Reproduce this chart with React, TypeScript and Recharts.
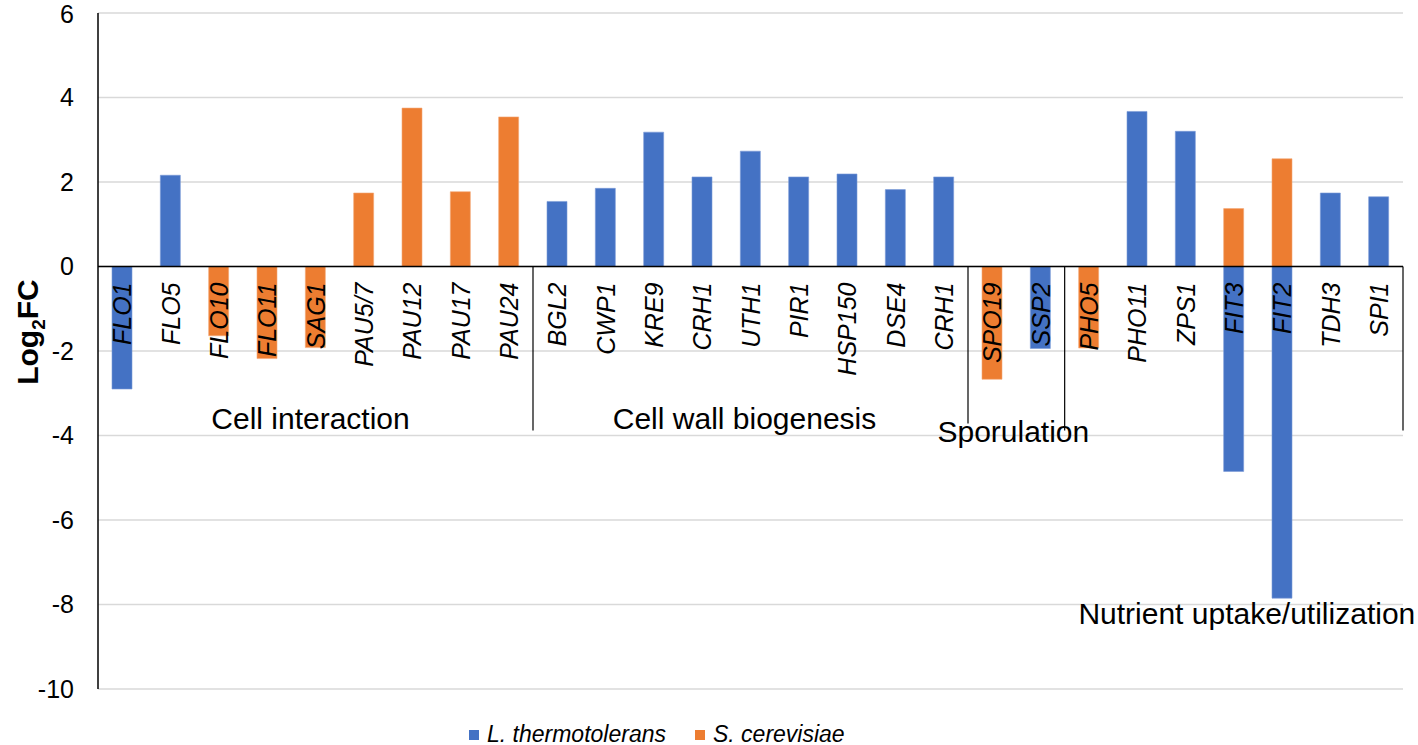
import React from "react";
import {
  BarChart,
  Bar,
  XAxis,
  YAxis,
  CartesianGrid,
  ReferenceLine,
  Legend,
} from "recharts";

const genes = [
  "FLO1", "FLO5", "FLO10", "FLO11", "SAG1", "PAU5/7", "PAU12", "PAU17", "PAU24",
  "BGL2", "CWP1", "KRE9", "CRH1", "UTH1", "PIR1", "HSP150", "DSE4", "CRH1",
  "SPO19", "SSP2",
  "PHO5", "PHO11", "ZPS1", "FIT3", "FIT2", "TDH3", "SPI1",
];

const lThermotolerans = [
  -2.9, 2.16, null, null, null, null, null, null, null,
  1.54, 1.85, 3.18, 2.12, 2.73, 2.12, 2.19, 1.82, 2.12,
  null, -1.94,
  null, 3.67, 3.2, -4.85, -7.85, 1.74, 1.65,
];

const sCerevisiae = [
  null, null, -1.64, -2.18, -1.92, 1.74, 3.75, 1.77, 3.54,
  null, null, null, null, null, null, null, null, null,
  -2.67, null,
  -1.93, null, null, 1.37, 2.55, null, null,
];

const groupNames = ["Cell interaction", "Cell wall biogenesis", "Sporulation", "Nutrient uptake/utilization"];
const groupSizes = [9, 9, 2, 7];

const yTicks = [-10, -8, -6, -4, -2, 0, 2, 4, 6];

// layout
const W = 1418;
const H = 745;
const M = { top: 13, right: 15, left: 0, bottom: 26 };
const Y_AXIS_W = 98;
const X_AXIS_H = 30;
const PLOT_W = W - M.left - M.right - Y_AXIS_W;
const PLOT_H = H - M.top - M.bottom - X_AXIS_H;
const Y_MIN = -10;
const Y_MAX = 6;
const ZERO_Y = M.top + (PLOT_H * Y_MAX) / (Y_MAX - Y_MIN);
const BAND = PLOT_W / genes.length;

// where each group label sits (below the zero line) and a small nudge sideways
const groupLabelStyle = [
  { dy: 162, dx: -5 },
  { dy: 162, dx: -6 },
  { dy: 175, dx: -3 },
  { dy: 357, dx: 13 },
];

const FONT = "Arial, 'Liberation Sans', sans-serif";

const data = genes.map((g, i) => ({
  gene: g,
  lt: lThermotolerans[i],
  sc: sCerevisiae[i],
}));

const groupStarts: number[] = [];
const groupEnds: number[] = [];
{
  let acc = 0;
  groupSizes.forEach((n) => {
    groupStarts.push(acc);
    acc += n;
    groupEnds.push(acc - 1);
  });
}

function GeneTick(props: any) {
  const { x, payload } = props;
  const index = props.index ?? payload.index;
  const y0 = ZERO_Y + 16;
  const gs = groupStarts.indexOf(index);
  const ge = groupEnds.indexOf(index);
  return (
    <g>
      <text
        x={x}
        y={y0}
        dy="0.36em"
        transform={`rotate(-90, ${x}, ${y0})`}
        textAnchor="end"
        fontFamily={FONT}
        fontStyle="italic"
        fontSize={25}
        fill="#000"
      >
        {payload.value}
      </text>
      {ge >= 0 && (
        <line
          x1={x + BAND / 2}
          x2={x + BAND / 2}
          y1={ZERO_Y}
          y2={ZERO_Y + (ge === 1 ? 157 : 164)}
          stroke="#000"
          strokeWidth={1.2}
        />
      )}
      {gs >= 0 && (
        <text
          x={x - BAND / 2 + (groupSizes[gs] * BAND) / 2 + groupLabelStyle[gs].dx}
          y={ZERO_Y + groupLabelStyle[gs].dy}
          textAnchor="middle"
          fontFamily={FONT}
          fontSize={30}
          fill="#000"
        >
          {groupNames[gs]}
        </text>
      )}
    </g>
  );
}

function YTitle(props: any) {
  const vb = props.viewBox || { x: 0, y: 0, width: 0, height: 0 };
  const cx = 27;
  const cy = vb.y + vb.height / 2 - 19;
  return (
    <text
      x={cx}
      y={cy}
      dy="0.36em"
      transform={`rotate(-90, ${cx}, ${cy})`}
      textAnchor="middle"
      fontFamily={FONT}
      fontWeight="bold"
      fontSize={30}
      fill="#000"
    >
      Log
      <tspan fontSize={19} dy={7}>2</tspan>
      <tspan dy={-7}>FC</tspan>
    </text>
  );
}

function LegendBox(props: any) {
  const items = props.payload || [];
  return (
    <div style={{ display: "flex", alignItems: "center", fontFamily: FONT }}>
      {items.map((it: any, i: number) => (
        <div
          key={i}
          style={{ display: "flex", alignItems: "center", marginRight: i === 0 ? 29 : 0 }}
        >
          <span
            style={{ width: 10, height: 10, background: it.color, display: "inline-block", marginRight: 8 }}
          />
          <span style={{ fontStyle: "italic", fontSize: 23, color: "#000" }}>{it.value}</span>
        </div>
      ))}
    </div>
  );
}

export default function App() {
  return (
    <div style={{ position: "absolute", left: 0, top: 0, width: W, height: H, background: "#fff" }}>
      <BarChart
        width={W}
        height={H}
        data={data}
        margin={M}
        stackOffset="sign"
        barSize={20}
      >
        <CartesianGrid vertical={false} stroke="#d9d9d9" strokeWidth={1.5} />
        <YAxis
          type="number"
          domain={[Y_MIN, Y_MAX]}
          ticks={yTicks}
          width={Y_AXIS_W}
          axisLine={{ stroke: "#000", strokeWidth: 1.5 }}
          tickLine={false}
          tickMargin={18}
          tick={{ fontFamily: FONT, fontSize: 25, fill: "#000" }}
          label={<YTitle />}
          allowDataOverflow
        />
        <Bar
          dataKey="lt"
          name="L. thermotolerans"
          stackId="a"
          fill="#4472C4"
          stroke="#7a9ad6"
          strokeWidth={0.6}
          isAnimationActive={false}
        />
        <Bar
          dataKey="sc"
          name="S. cerevisiae"
          stackId="a"
          fill="#ED7D31"
          stroke="#f3a877"
          strokeWidth={0.6}
          isAnimationActive={false}
        />
        <ReferenceLine y={0} stroke="#000" strokeWidth={1.5} />
        <XAxis
          dataKey="gene"
          height={X_AXIS_H}
          axisLine={false}
          tickLine={false}
          interval={0}
          tick={<GeneTick />}
        />
        <Legend
          layout="horizontal"
          verticalAlign="middle"
          align="center"
          wrapperStyle={{ left: 469, top: 721, width: 440, height: 26 }}
          content={<LegendBox />}
        />
      </BarChart>
    </div>
  );
}
